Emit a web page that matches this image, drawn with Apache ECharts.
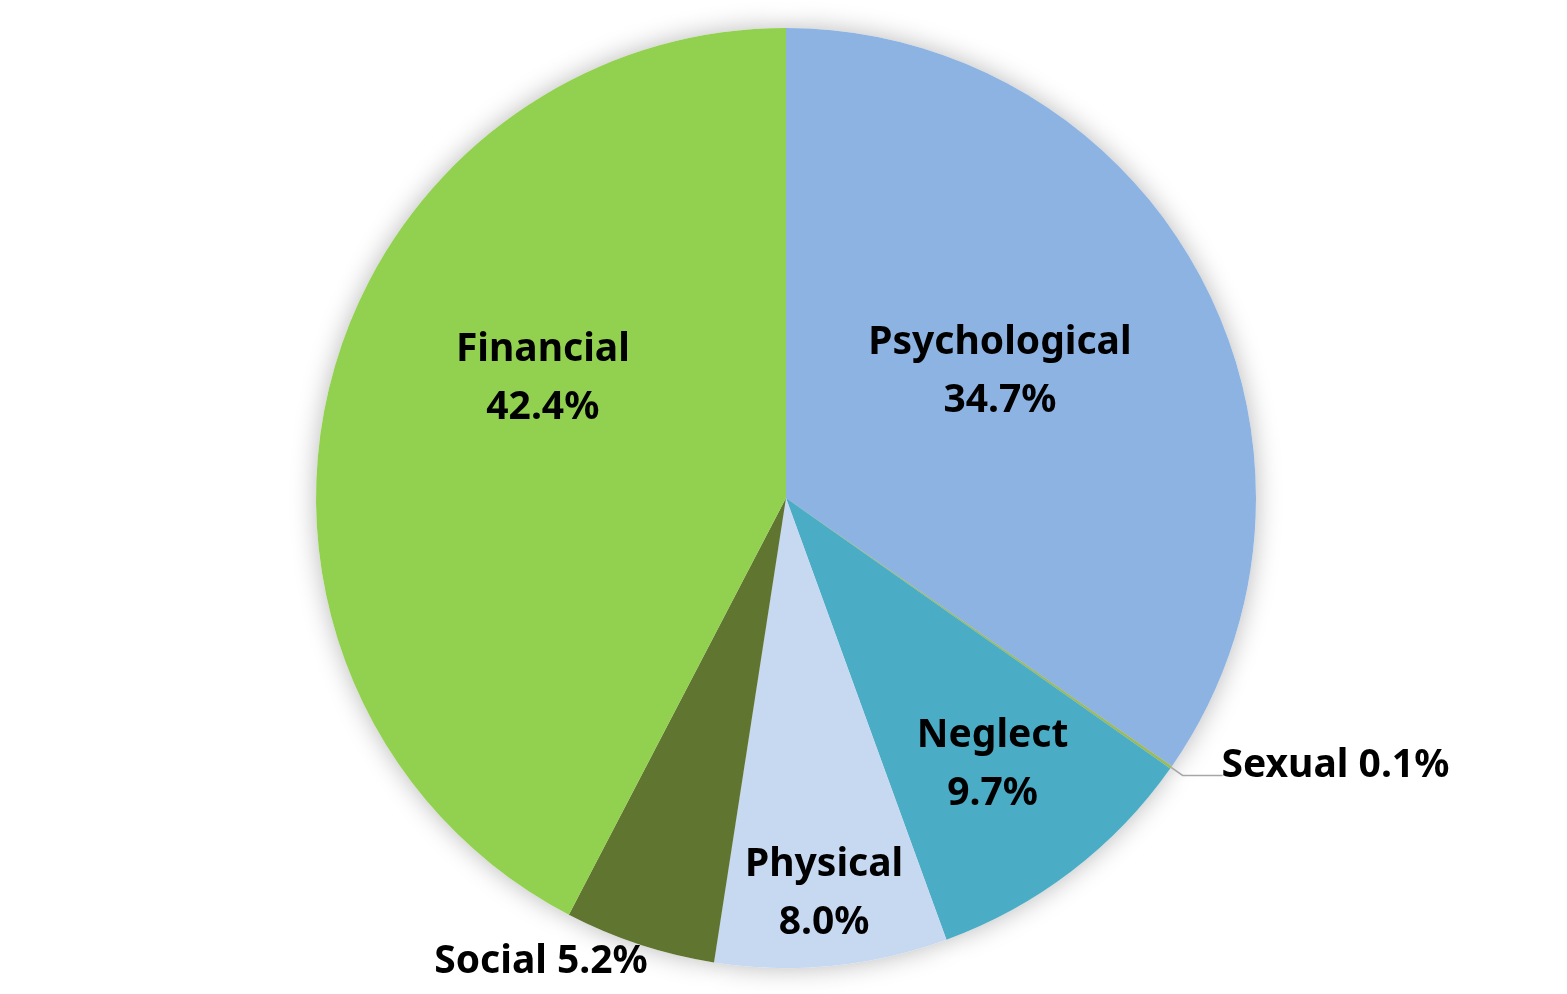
<!DOCTYPE html>
<html>
<head>
<meta charset="utf-8">
<title>Abuse types</title>
<script src="https://cdn.jsdelivr.net/npm/echarts@6/dist/echarts.min.js"></script>
<style>
  html, body { margin: 0; padding: 0; background: #fff; }
  #chart { width: 1567px; height: 994px; }
</style>
</head>
<body>
<div id="chart"></div>
<script>
// categories and shares (%), clockwise from 12 o'clock
const categories = ['Psychological', 'Sexual', 'Neglect', 'Physical', 'Social', 'Financial'];
const shares = [34.7, 0.1, 9.7, 8.0, 5.2, 42.4];
const colors = ['#8db3e2', '#9bbb59', '#4bacc6', '#c6d9f1', '#5f7530', '#92d050'];

// label nudges from the default inside / outside spot (px)
const labelNudge = [[3, -16], [-6, -10], [62, 78], [15, 159], [0, 0], [-12, -63]];

const chart = echarts.init(document.getElementById('chart'));

const pct = v => v.toFixed(1) + '%';

const items = categories.map((name, i) => {
  const item = { name: name, value: shares[i], itemStyle: { color: colors[i] } };
  if (name === 'Sexual') {
    item.label = { position: 'outside', formatter: p => p.name + ' ' + pct(p.value) };
    item.labelLine = { show: true, length: 14, length2: 40, lineStyle: { color: '#a6a6a6', width: 1.5 } };
  }
  if (name === 'Social') {
    item.label = { position: 'outside', formatter: p => p.name + ' ' + pct(p.value) };
    item.labelLine = { show: false };
  }
  return item;
});

const center = [786, 498];

chart.setOption({
  animation: false,
  series: [
    {
      // shadow layer under the pie
      type: 'pie',
      silent: true,
      z: 1,
      center: center,
      radius: 470,
      startAngle: 90,
      label: { show: false },
      labelLine: { show: false },
      itemStyle: { color: '#fff', shadowBlur: 26, shadowColor: 'rgba(0,0,0,0.28)' },
      data: categories.map((name, i) => ({ name: name, value: shares[i] }))
    },
    {
      type: 'pie',
      z: 2,
      center: center,
      radius: 470,
      startAngle: 90,
      clockwise: true,
      avoidLabelOverlap: false,
      itemStyle: { borderWidth: 0 },
      label: {
        show: true,
        position: 'inside',
        formatter: p => p.name + '\n' + pct(p.value),
        color: '#000',
        fontFamily: 'Noto Sans',
        fontWeight: 'bold',
        fontSize: 39,
        lineHeight: 58
      },
      labelLayout: function (p) {
        if (categories[p.dataIndex] === 'Social') {
          return { x: 541, y: 962, align: 'center', verticalAlign: 'middle' };
        }
        const n = labelNudge[p.dataIndex];
        return { dx: n[0], dy: n[1] };
      },
      data: items
    }
  ]
});
</script>
</body>
</html>
